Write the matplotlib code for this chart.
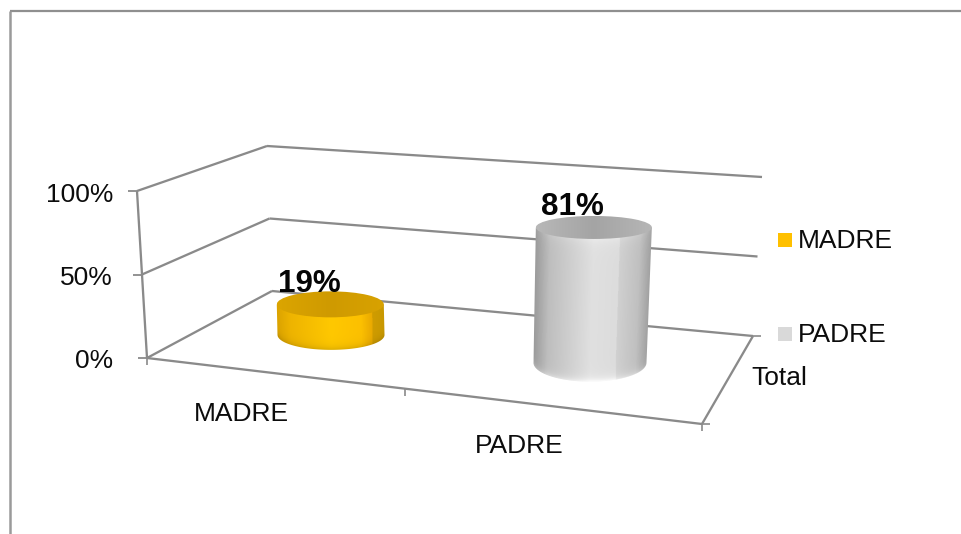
import numpy as np
import matplotlib
matplotlib.use("Agg")
import matplotlib.pyplot as plt
from matplotlib.colors import LinearSegmentedColormap
from matplotlib.patches import Ellipse, Polygon, Rectangle

categories = ["MADRE", "PADRE"]
values = [19, 81]
y_ticks = [0, 50, 100]
depth_label = "Total"
swatch_colors = ["#FFC000", "#D9D9D9"]

plt.rcParams["font.family"] = ["Liberation Sans", "DejaVu Sans"]
FS = 19
GRID = "#8a8a8a"
INK = "#0c0c0c"

fig = plt.figure(figsize=(9.61, 5.34), dpi=100)
ax = fig.add_axes([0, 0, 1, 1])
ax.set_xlim(0, 961)
ax.set_ylim(534, 0)
ax.axis("off")

# Oblique chart box in canvas pixels: floor corners and the rise of a 100 % wall
FL, FR = np.array([147., 358.]), np.array([702., 424.])
BL, BR = np.array([272., 291.]), np.array([753., 336.])
RISE_FL, RISE_BL, RISE_BR = np.array([-10., -167.]), np.array([-5., -145.]), np.array([9., -159.])
# rise of a bar at the near and far ends of the category axis
RISE_C0, RISE_C1 = np.array([-8., -157.5]), np.array([9., -170.])


def wall(base, rise, v):
    return base + rise * v / 100.0


def seg(a, b, lw=1.65, color=GRID, z=1):
    ax.plot([a[0], b[0]], [a[1], b[1]], color=color, lw=lw, zorder=z, solid_capstyle="butt")


# page frame
seg((10, 11), (961, 11), lw=1.6, color="#8f8f8f")
seg((10, 11), (10, 534), lw=1.8, color="#9a9a9a")

# walls and gridlines
for v in y_ticks:
    p0, p1, p2 = wall(FL, RISE_FL, v), wall(BL, RISE_BL, v), wall(BR, RISE_BR, v)
    seg(p0, p1)
    seg(p1, p2)
    seg(p0 + (-9, 0), p0, lw=1.3)
    ax.text(113, p0[1] + 3.5, f"{v}%", ha="right", va="center", fontsize=FS, color=INK)
seg(wall(FL, RISE_FL, 0), wall(FL, RISE_FL, 100))

# floor front edge and depth edge
seg(FL, FR)
seg(FR, BR)
for t in (0, 0.465, 1):
    p = FL + (FR - FL) * t
    seg(p, p + (0, 7), lw=1.2)
seg(FR, FR + (8, 0), lw=1.2)
seg(BR, BR + (8, 0), lw=1.2)

# category labels
label_pos = [(241, 414), (519, 446)]
for name, (x, y) in zip(categories, label_pos):
    ax.text(x, y, name, ha="center", va="center", fontsize=FS, color=INK)
ax.text(751, 378, depth_label, ha="left", va="center", fontsize=FS, color=INK)

# cylinder styling
body_cmaps = [
    LinearSegmentedColormap.from_list("m", [(0, "#dca400"), (0.12, "#eeb400"), (0.5, "#ffc800"),
                                            (0.78, "#fcc000"), (0.88, "#eaaa00"), (0.892, "#cf9c00"),
                                            (1, "#c89800")]),
    LinearSegmentedColormap.from_list("p", [(0, "#9c9c9c"), (0.12, "#bebebe"), (0.5, "#e0e0e0"),
                                            (0.72, "#dcdcdc"), (0.73, "#d0d0d0"), (0.9, "#c0c0c0"),
                                            (1, "#a0a0a0")]),
]
top_colors = [("#dba500", "#cf9a00", "#d8a200"), ("#b8b8b8", "#a4a4a4", "#b6b6b6")]
foot_gain = [-0.12, 0.12]
collar_gain = [0.0, 0.05]
half_w_base = [53.5, 56.5]
half_w_top = [53.5, 58.0]
semi_base = [15.0, 19.0]
semi_top = [13.0, 11.5]
base_shift = np.array([-8.0, -3.5])


def cylinder(i, v):
    u = 0.25 + 0.5 * i
    base = ((FL + (FR - FL) * u) + (BL + (BR - BL) * u)) / 2 + base_shift
    top = base + (RISE_C0 + (RISE_C1 - RISE_C0) * u) * v / 100.0
    hb, ht, sb, st = half_w_base[i], half_w_top[i], semi_base[i], semi_top[i]

    th = np.linspace(0, np.pi, 90)
    lower = np.c_[base[0] + hb * np.cos(th), base[1] + sb * np.sin(th)]
    upper = np.c_[top[0] - ht * np.cos(th), top[1] + 0 * th]
    clip = Polygon(np.r_[lower, upper], closed=True, fc="none", ec="none")
    ax.add_patch(clip)

    # body: shade per pixel across the width, with a soft foot and collar
    x0, x1 = int(min(base[0] - hb, top[0] - ht)) - 2, int(max(base[0] + hb, top[0] + ht)) + 2
    y0, y1 = int(top[1]) - 2, int(base[1] + sb) + 2
    xs, ys = np.meshgrid(np.arange(x0, x1 + 1), np.arange(y0, y1 + 1))
    frac = np.clip((ys - top[1]) / (base[1] - top[1]), 0, 1)
    cx = top[0] + (base[0] - top[0]) * frac
    hw = ht + (hb - ht) * frac
    s = np.clip((xs - cx) / hw, -1, 1)
    rgb = body_cmaps[i]((s + 1) / 2)[..., :3]
    circ = np.sqrt(1 - s ** 2)
    d_foot = base[1] + sb * circ - ys
    d_collar = ys - (top[1] + st * circ)
    gain = 1 + foot_gain[i] * np.exp(-np.abs(d_foot) / 3.5) + collar_gain[i] * np.exp(-np.abs(d_collar) / 6.0)
    rgb = np.clip(rgb * gain[..., None], 0, 1)
    im = ax.imshow(rgb, extent=(x0 - .5, x1 + .5, y1 + .5, y0 - .5), aspect="auto", zorder=3,
                   interpolation="bilinear")
    im.set_clip_path(clip)

    # top face
    t_cmap = LinearSegmentedColormap.from_list("t", list(top_colors[i]))
    ell = Ellipse(top, 2 * ht, 2 * st, fc="none", ec="none", zorder=3.2)
    ax.add_patch(ell)
    grad = np.linspace(0, 1, 256)[None, :]
    im2 = ax.imshow(grad, cmap=t_cmap, extent=(top[0] - ht, top[0] + ht, top[1] + 16, top[1] - 16),
                    aspect="auto", zorder=3.2, interpolation="bilinear")
    im2.set_clip_path(ell)
    return top


for i, v in enumerate(values):
    top = cylinder(i, v)
    ax.text(top[0] - 21, top[1] - 20, f"{v}%", ha="center", va="center", fontsize=22.6,
            fontweight="bold", color="#050505", zorder=5)

# legend
legend_y = [240, 334]
for name, col, y in zip(categories, swatch_colors, legend_y):
    ax.add_patch(Rectangle((778, y - 7), 14, 14, fc=col, ec="none", zorder=4))
    ax.text(798, y + 1, name, ha="left", va="center", fontsize=FS, color=INK)

ax.set_xlim(0, 961)
ax.set_ylim(534, 0)
fig.savefig("out.png", dpi=100, facecolor="white")
